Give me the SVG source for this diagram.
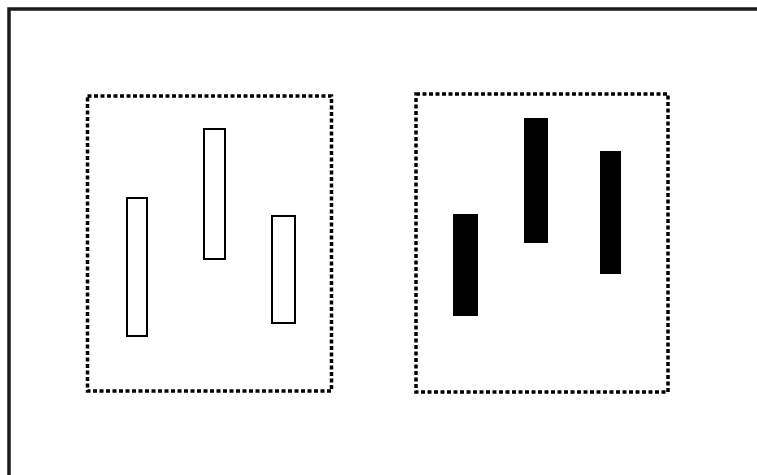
<svg xmlns="http://www.w3.org/2000/svg" width="757" height="475" viewBox="0 0 757 475">
<style>
.frame{fill:none;stroke:#1a1a1a;stroke-width:3.5}
.dot{fill:none;stroke:#000;stroke-width:3.5;stroke-dasharray:4 2.5}
.hollow{fill:#fff;stroke:#000;stroke-width:2}
.solid{fill:#000;stroke:none}
</style>
<rect width="757" height="475" fill="#fff"/>
<path class="frame" d="M9,480 V9 H762"/>
<g id="box-left">
<rect class="dot" x="87.5" y="96" width="244" height="295"/>
<rect class="hollow" x="127" y="198" width="20" height="138"/>
<rect class="hollow" x="204" y="129" width="21" height="130"/>
<rect class="hollow" x="272" y="216" width="23" height="107"/>
</g>
<g id="box-right">
<rect class="dot" x="416" y="94" width="252" height="298"/>
<rect class="solid" x="453" y="214" width="25" height="102"/>
<rect class="solid" x="524" y="118" width="24" height="125"/>
<rect class="solid" x="600" y="151" width="21" height="123"/>
</g>
</svg>
